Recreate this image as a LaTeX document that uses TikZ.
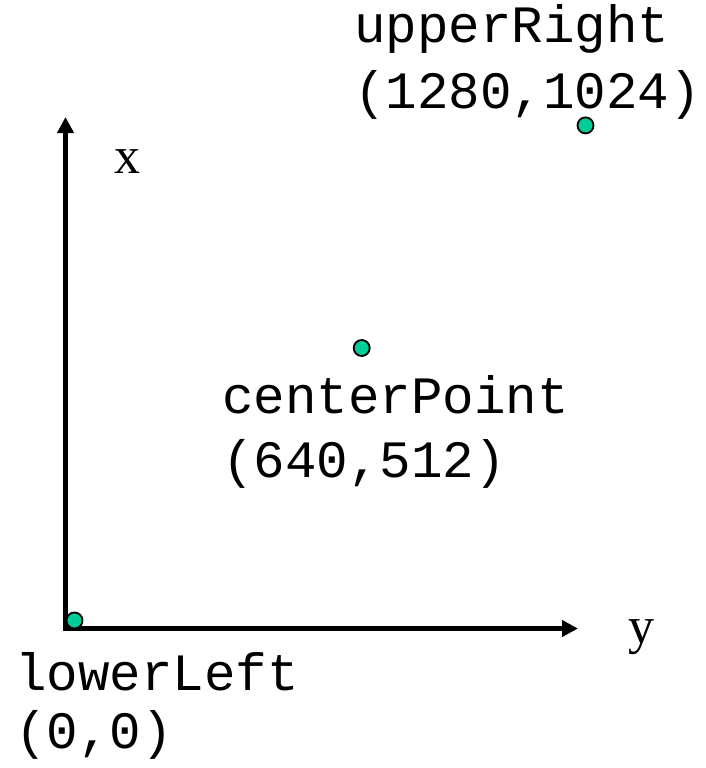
\documentclass[tikz,border=0pt]{standalone}
\usepackage{fontspec}
\setmainfont{Liberation Serif}
\newfontfamily\monofont{Liberation Mono}
\usetikzlibrary{arrows.meta}
\definecolor{dotgreen}{RGB}{0,204,153}
\begin{document}
\begin{tikzpicture}[x=1pt,y=-1pt,
  axis/.style={line width=5pt,-{Triangle[length=16pt,width=16pt]}},
  dot/.style={circle,draw=black,line width=1.8pt,fill=dotgreen,minimum size=16pt,inner sep=0pt},
  lbl/.style={anchor=base west,inner sep=0pt,font=\monofont\fontsize{52.5}{62}\selectfont},
  axlbl/.style={anchor=base west,inner sep=0pt,font=\fontsize{52}{62}\selectfont}]
\useasboundingbox (0,0) rectangle (705,768);
\coordinate (origin) at (65.5,628.5);
\coordinate (xtip) at (65.5,117);
\coordinate (ytip) at (578,628.5);
\draw[axis] ([yshift=2.5pt]origin) -- (xtip);
\draw[axis] ([xshift=-2.5pt]origin) -- (ytip);
\node[dot] (ll) at (74.5,620.5) {};
\node[dot] (cp) at (361.7,348) {};
\node[dot] (ur) at (585.5,125.4) {};
\node[axlbl] (xl) at (114,173) {x};
\node[axlbl] (yl) at (628,643) {y};
\node[lbl] (ur1) at (354,43) {upperRight};
\node[lbl] (ur2) at (354,108) {(1280,1024)};
\node[lbl] (cp1) at (222,413) {centerPoint};
\node[lbl] (cp2) at (222,477) {(640,512)};
\node[lbl] (ll1) at (15,690) {lowerLeft};
\node[lbl] (ll2) at (15,748) {(0,0)};
\end{tikzpicture}
\end{document}
